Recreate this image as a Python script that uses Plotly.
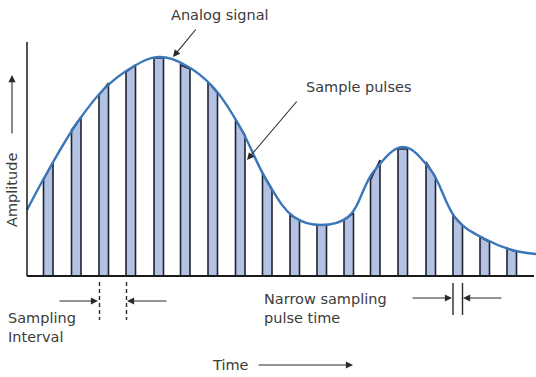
import plotly.graph_objects as go

# ---- data (time units, amplitude units; baseline amplitude = 0) ----
curve_t = [0, 21, 50, 77, 104, 131, 158, 186, 213, 240, 267, 294, 321, 347, 376, 403, 430, 458, 485, 509]
curve_a = [66, 105, 153, 187, 208, 219, 211, 189, 149, 95, 59, 51, 59, 105, 129, 107, 56, 37, 26, 22]

pulse_start = [16.5, 44.5, 72, 99, 127, 153.5, 181, 208.5, 235.5, 263, 290, 317, 343.5, 371,
               399, 426, 453, 480]
pulse_width = 9.5
pulse_top_left = [96, 146, 181, 204, 218, 211, 194, 156, 103, 61, 51, 56, 96, 127, 114, 61, 39, 28]
pulse_top_right = [114, 159, 193, 211, 218, 207, 183, 141, 86, 56, 51, 63, 116, 127, 99, 51, 34, 24]

axis_top = 234
axis_end = 507

FONT = "DejaVu Sans"
FS = 14.5
TXT = "#3c3c3c"
LINE = "#2a2a2a"

fig = go.Figure()

# sample pulses
for s, tl, tr in zip(pulse_start, pulse_top_left, pulse_top_right):
    e = s + pulse_width
    fig.add_trace(go.Scatter(
        x=[s, s, e, e, s], y=[0, tl, tr, 0, 0],
        mode="lines", fill="toself", fillcolor="#b3c1e2",
        line=dict(color="#1f2230", width=1.6), hoverinfo="skip", showlegend=False))

# analog signal
fig.add_trace(go.Scatter(
    x=curve_t, y=curve_a, mode="lines",
    line=dict(color="#3a76b8", width=2.4, shape="spline", smoothing=1.1),
    hoverinfo="skip", showlegend=False))

shapes = [
    dict(type="line", xref="x", yref="y", x0=0, x1=0, y0=0, y1=axis_top,
         line=dict(color="#1a1a1a", width=1.5)),
    dict(type="line", xref="x", yref="y", x0=0, x1=axis_end, y0=0, y1=0,
         line=dict(color="#1a1a1a", width=2)),
]
# sampling interval dashed markers
for t in (pulse_start[2], pulse_start[3]):
    shapes.append(dict(type="line", xref="x", yref="y", x0=t + 0.5, x1=t + 0.5, y0=-6, y1=-44,
                       line=dict(color=LINE, width=1.4, dash="4px,3px")))
# narrow pulse markers
for t in (pulse_start[15], pulse_start[15] + pulse_width):
    shapes.append(dict(type="line", xref="x", yref="y", x0=t, x1=t, y0=-7, y1=-39,
                       line=dict(color=LINE, width=1.4)))

ann = []


def arrow(tail_x, tail_y, head_x, head_y, width=1.1):
    ann.append(dict(x=head_x, y=head_y, ax=tail_x, ay=tail_y, xref="x", yref="y",
                    axref="x", ayref="y", text="", showarrow=True, arrowhead=2,
                    arrowsize=1.3, arrowwidth=width, arrowcolor=LINE))


def label(x, y, text, xanchor="center", angle=0, size=FS):
    ann.append(dict(x=x, y=y, xref="x", yref="y", text=text, showarrow=False,
                    xanchor=xanchor, yanchor="middle", align="left", textangle=angle,
                    font=dict(family=FONT, size=size, color=TXT)))


label(193, 261, "Analog signal")
arrow(170, 248, 146, 219)
label(331, 189, "Sample pulses")
arrow(271, 176, 220, 116)
label(-15, 86, "Amplitude", angle=-90)
arrow(-15, 141, -15, 201)
label(203, -89, "Time")
arrow(230, -89, 326, -89)
label(-21, -51, "Sampling<br>Interval", xanchor="left")
arrow(31, -25, 71, -25)
arrow(141, -25, 100, -25)
label(235, -32.5, "Narrow sampling<br>pulse time", xanchor="left")
arrow(384, -22, 425, -22)
arrow(476, -22, 436, -22)

fig.update_layout(
    width=536, height=377, margin=dict(l=0, r=0, t=0, b=0),
    paper_bgcolor="white", plot_bgcolor="white",
    xaxis=dict(range=[-27, 509], visible=False, fixedrange=True),
    yaxis=dict(range=[-101, 276], visible=False, fixedrange=True),
    shapes=shapes, annotations=ann, showlegend=False,
)

fig.write_html("out.html", config={"displayModeBar": False},
               post_script="document.body.style.margin='0';document.body.style.overflow='hidden';")
